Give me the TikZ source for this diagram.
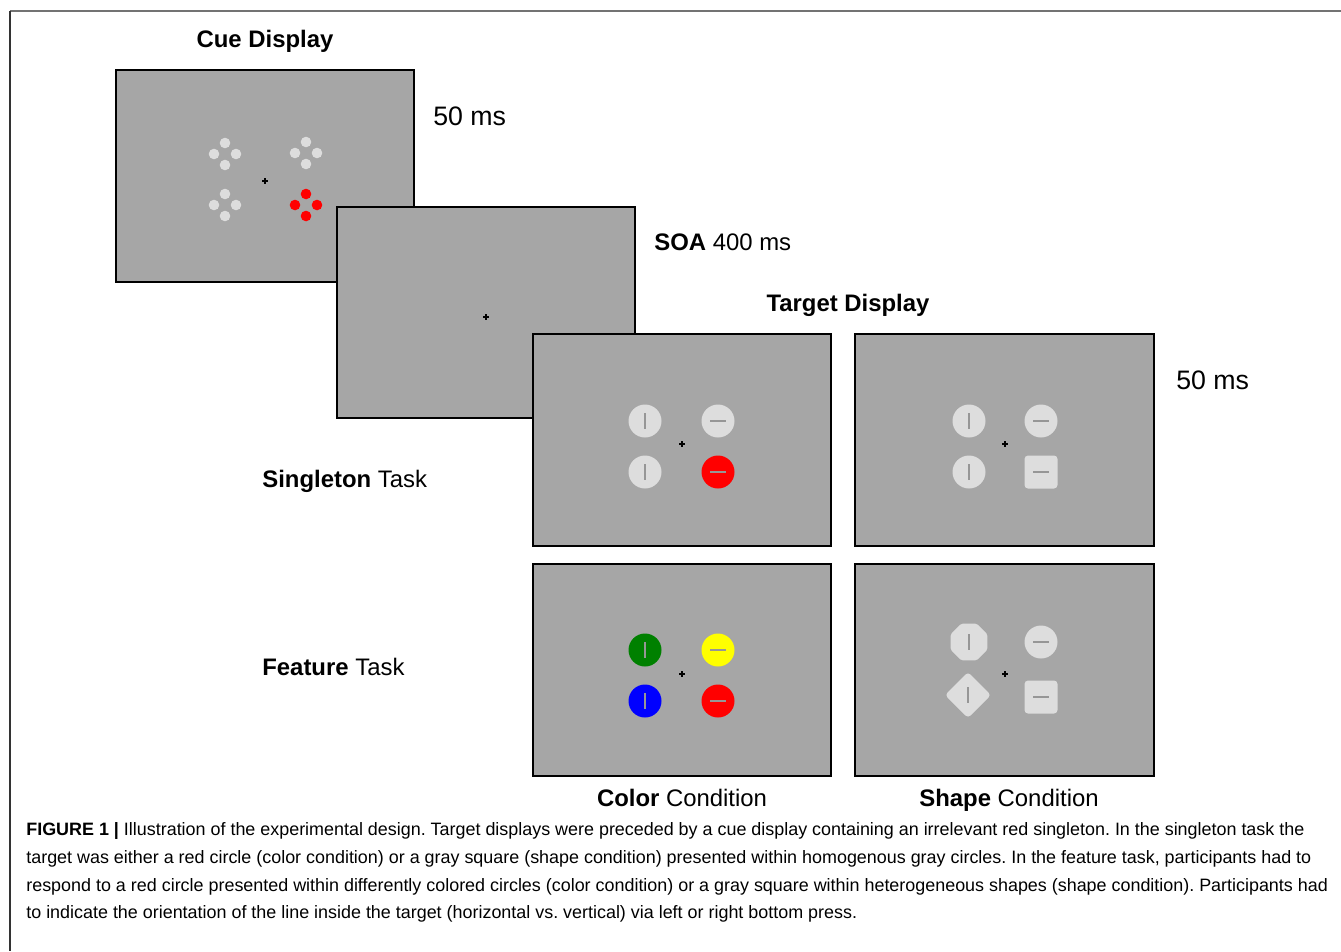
\documentclass[tikz,border=0pt]{standalone}
\usepackage{fontspec}
\setmainfont{Liberation Sans}
\frenchspacing
\definecolor{scrgray}{RGB}{166,166,166}
\definecolor{stimgray}{RGB}{221,221,221}
\definecolor{barline}{RGB}{150,150,150}
\definecolor{stimred}{RGB}{255,0,0}
\definecolor{stimgreen}{RGB}{0,128,0}
\definecolor{stimyellow}{RGB}{255,255,0}
\definecolor{stimblue}{RGB}{0,0,255}
\tikzset{
  screen/.style={draw=black, line width=1.6pt, fill=scrgray},
  lbl/.style={font=\fontsize{13.6pt}{16pt}\selectfont, inner sep=0pt},
  timelbl/.style={font=\fontsize{15.2pt}{18pt}\selectfont, inner sep=0pt, anchor=west},
  caption/.style={font=\fontsize{10.2pt}{12pt}\selectfont, inner sep=0pt, anchor=base west},
  bar/.style={draw=barline, line width=1.2pt},
}
\newcommand{\fixcross}[2]{\draw[black, line width=0.6pt] (#1-3,#2) -- (#1+3,#2) (#1,#2-3) -- (#1,#2+3);}
\newcommand{\vstroke}[2]{\draw[bar] (#1,#2-8) -- (#1,#2+8);}
\newcommand{\hstroke}[2]{\draw[bar] (#1-8,#2) -- (#1+8,#2);}
\begin{document}
\begin{tikzpicture}[x=0.02cm, y=-0.02cm]
  \useasboundingbox (0,0) rectangle (1341,951);
  \fill[white] (0,0) rectangle (1341,951);

  % outer frame
  \draw[gray!90!black, line width=0.8pt] (1341,11) -- (10,11);
  \draw[black!80, line width=0.8pt] (10,11) -- (10,951);

  % cue display
  \draw[screen] (116,70) rectangle (414,282);
  \fixcross{265}{181}
  \foreach \cx/\cy/\col in {225/154/stimgray, 306/153/stimgray, 225/205/stimgray, 306/205/stimred}{
    \foreach \dx/\dy in {0/-11, 11/0, 0/11, -11/0}
      \fill[\col] (\cx+\dx,\cy+\dy) circle (5.3);
  }

  % SOA display
  \draw[screen] (337,207) rectangle (635,418);
  \fixcross{486}{317}

  % target displays
  \draw[screen] (533,334) rectangle (831,546);
  \draw[screen] (855,334) rectangle (1154,546);
  \draw[screen] (533,564) rectangle (831,776);
  \draw[screen] (855,564) rectangle (1154,776);

  % singleton task, color condition
  \fixcross{682}{444}
  \fill[stimgray] (645,421) circle (16.5);
  \fill[stimgray] (718,421) circle (16.5);
  \fill[stimgray] (645,472) circle (16.5);
  \fill[stimred]  (718,472) circle (16.5);
  \vstroke{645}{421} \hstroke{718}{421} \vstroke{645}{472} \hstroke{718}{472}

  % singleton task, shape condition
  \fixcross{1005}{444}
  \fill[stimgray] (969,421) circle (16.5);
  \fill[stimgray] (1041,421) circle (16.5);
  \fill[stimgray] (969,472) circle (16.5);
  \fill[stimgray, rounded corners=2] (1024.5,455.5) rectangle (1057.5,488.5);
  \vstroke{969}{421} \hstroke{1041}{421} \vstroke{969}{472} \hstroke{1041}{472}

  % feature task, color condition
  \fixcross{682}{674}
  \fill[stimgreen]  (645,650) circle (16.5);
  \fill[stimyellow] (718,650) circle (16.5);
  \fill[stimblue]   (645,701) circle (16.5);
  \fill[stimred]    (718,701) circle (16.5);
  \vstroke{645}{650} \hstroke{718}{650} \vstroke{645}{701} \hstroke{718}{701}

  % feature task, shape condition
  \fixcross{1005}{674}
  \fill[stimgray, rounded corners=1] (969+20*cos 22.5,642-20*sin 22.5)
    \foreach \a in {67.5,112.5,...,337.5}{ -- (969+20*cos \a,642-20*sin \a)} -- cycle;
  \fill[stimgray] (1041,642) circle (16.5);
  \fill[stimgray, rounded corners=2] (945,695) -- (968,672) -- (991,695) -- (968,718) -- cycle;
  \fill[stimgray, rounded corners=2] (1024.5,680.5) rectangle (1057.5,713.5);
  \vstroke{969}{642} \hstroke{1041}{642} \vstroke{968}{695} \hstroke{1041}{697}

  % labels
  \node[lbl] (cue) at (265,41) {\textbf{Cue Display}};
  \node[timelbl] (cuetime) at (433,116) {50 ms};
  \node[lbl, anchor=west] (soa) at (654,242) {\textbf{SOA} 400 ms};
  \node[lbl] (target) at (848,305) {\textbf{Target Display}};
  \node[timelbl] (targettime) at (1176,380) {50 ms};
  \node[lbl, anchor=west] (singleton) at (262,481) {\textbf{Singleton} Task};
  \node[lbl, anchor=west] (feature) at (262,667) {\textbf{Feature} Task};
  \node[lbl, anchor=base] (colorcond) at (682,806) {\textbf{Color} Condition};
  \node[lbl, anchor=base] (shapecond) at (1009,806) {\textbf{Shape} Condition};

  % caption
  \node[caption] (cap1) at (26,835) {\textbf{FIGURE 1 |} Illustration of the experimental design. Target displays were preceded by a cue display containing an irrelevant red singleton. In the singleton task the};
  \node[caption] (cap2) at (26,863) {target was either a red circle (color condition) or a gray square (shape condition) presented within homogenous gray circles. In the feature task, participants had to};
  \node[caption] (cap3) at (26,891) {respond to a red circle presented within differently colored circles (color condition) or a gray square within heterogeneous shapes (shape condition). Participants had};
  \node[caption] (cap4) at (26,918) {to indicate the orientation of the line inside the target (horizontal vs. vertical) via left or right bottom press.};
\end{tikzpicture}
\end{document}
